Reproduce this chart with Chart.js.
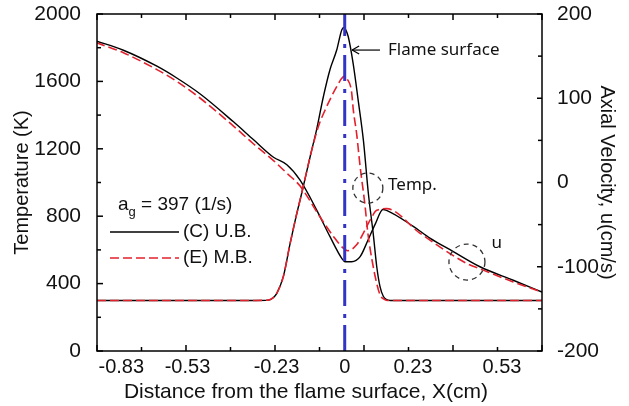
<!DOCTYPE html>
<html><head><meta charset="utf-8">
<script src="https://cdn.jsdelivr.net/npm/chart.js@4.4.0/dist/chart.umd.min.js"></script>
<style>html,body{margin:0;padding:0;background:#fff}</style>
</head><body>
<canvas id="c" width="629" height="406"></canvas>
<script>
// ---------- data ----------
const tempUBx = [-0.835,-0.50,-0.30,-0.257,-0.240,-0.229,-0.207,-0.184,-0.165,-0.145,-0.117,-0.094,-0.072,-0.050,-0.027,-0.010,-0.003,0.005,0.012,0.029,0.046,0.063,0.080,0.096,0.108,0.119,0.130,0.140,0.153,0.40,0.665];
const tempUB  = [300,300,300,302,318,342,441,639,790,936,1150,1320,1509,1668,1786,1905,1920,1900,1865,1700,1480,1250,930,698,500,382,325,306,300,300,300];

const tempMBx = [-0.835,-0.50,-0.30,-0.257,-0.240,-0.229,-0.207,-0.184,-0.165,-0.145,-0.117,-0.089,-0.061,-0.045,-0.027,-0.010,-0.002,0.008,0.023,0.029,0.040,0.052,0.068,0.078,0.092,0.108,0.120,0.135,0.145,0.40,0.665];
const tempMB  = [300,300,300,302,318,342,441,639,790,936,1150,1331,1450,1509,1569,1618,1630,1615,1540,1430,1292,1094,870,700,540,400,330,305,300,300,300];

const velUBx = [-0.838,-0.746,-0.633,-0.566,-0.487,-0.375,-0.308,-0.240,-0.195,-0.151,-0.094,-0.050,-0.010,0.001,0.023,0.052,0.079,0.102,0.129,0.141,0.231,0.287,0.366,0.456,0.568,0.665];
const velUB  = [168,157,138,124,105,72,51,30,21,3,-33,-64,-90,-94,-94,-88,-68,-50,-32,-33,-52,-66,-82,-100,-116,-130];

const velMBx = [-0.838,-0.746,-0.633,-0.566,-0.487,-0.375,-0.308,-0.240,-0.195,-0.151,-0.083,-0.038,-0.005,0.010,0.040,0.063,0.085,0.108,0.141,0.253,0.411,0.467,0.568,0.665];
const velMB  = [166,154,134,120,100,67,46,26,11,-4,-41,-64,-78,-81,-74,-60,-45,-33,-31,-60,-96,-104,-118,-130];

const flameX = [0, 0];
const flameT = [0, 2000];

const xTickLabels = ["-0.83","-0.53","-0.23","0","0.23","0.53"];
const xTickValues = [-0.83,-0.53,-0.23,0,0.23,0.53];
const xMinorStep = 0.15;
const yLabelStep = 400, yMinorStep = 200;
const y1LabelStep = 100, y1MinorStep = 50;
const seriesNames = ["(C) U.B.","(E) M.B."];
const strainLabel = ["a","g"," = 397 (1/s)"];
const xTitle = "Distance from the flame surface, X(cm)";

// ---------- helpers ----------
const pts = (xs, ys) => xs.map((v,i)=>({x:v,y:ys[i]}));
const RED = '#e3212d', BLK = '#000000', BLUE = '#3434c4';
const FONT = "'Liberation Sans', Arial, sans-serif";
const AFONT = "'Noto Sans', 'Open Sans', sans-serif";
const noPad = s => { s.paddingTop = 0; s.paddingBottom = 0; };

const decor = {
  id:'decor',
  afterDatasetsDraw(chart){
    const {ctx, chartArea:a, scales:{x,y,y1}} = chart;
    const L = (x0,y0,x1,y1_)=>{ctx.beginPath();ctx.moveTo(x0,y0);ctx.lineTo(x1,y1_);ctx.stroke();};
    ctx.save();
    ctx.strokeStyle='#000'; ctx.lineWidth=1.5; ctx.setLineDash([]);
    const n = Math.round((x.max-x.min)/xMinorStep);
    for(let i=0;i<=n;i++){
      const px = x.getPixelForValue(x.min+i*xMinorStep);
      const len = i%2===0?6:4;
      L(px,a.bottom,px,a.bottom-len);
      L(px,a.top,px,a.top+len);
    }
    for(let t=y.min;t<=y.max;t+=yMinorStep){
      const py=y.getPixelForValue(t);
      L(a.left,py,a.left+(t%yLabelStep===0?6:4),py);
    }
    for(let u=y1.min;u<=y1.max;u+=y1MinorStep){
      const py=y1.getPixelForValue(u);
      L(a.right,py,a.right-(u%y1LabelStep===0?5:4),py);
    }
    ctx.strokeRect(a.left,a.top,a.right-a.left,a.bottom-a.top);

    // x axis title
    ctx.fillStyle='#111'; ctx.textBaseline='middle'; ctx.textAlign='center';
    ctx.font = "21px "+FONT;
    ctx.fillText(xTitle, 306, a.bottom+41);

    // legend
    ctx.textAlign='left';
    const lx0 = a.left+13, lx1 = a.left+82;
    const ly1 = a.top+218, ly2 = a.top+244;
    ctx.font = "19px "+FONT;
    let tx = a.left+21, ty = a.top+191;
    ctx.fillText(strainLabel[0],tx,ty); tx += ctx.measureText(strainLabel[0]).width;
    ctx.font = "13px "+FONT; ctx.fillText(strainLabel[1],tx,ty+7); tx += ctx.measureText(strainLabel[1]).width;
    ctx.font = "19px "+FONT; ctx.fillText(strainLabel[2],tx,ty);
    ctx.lineWidth=1.5;
    ctx.strokeStyle=BLK; ctx.setLineDash([]); L(lx0,ly1,lx1,ly1);
    ctx.strokeStyle=RED; ctx.setLineDash([9,4]); L(lx0,ly2,lx1,ly2);
    ctx.setLineDash([]);
    ctx.fillText(seriesNames[0],lx1+4,ly1);
    ctx.fillText(seriesNames[1],lx1+4,ly2);

    // annotations
    ctx.font = "17px "+AFONT; ctx.fillStyle='#111';
    const fy = y.getPixelForValue(1786);
    ctx.fillText("Flame surface", x.getPixelForValue(0.146), fy);
    ctx.strokeStyle='#000'; ctx.lineWidth=1.2;
    const ax0 = x.getPixelForValue(0.025), ax1 = x.getPixelForValue(0.119);
    L(ax0,fy,ax1,fy); L(ax0,fy,ax0+7,fy-4); L(ax0,fy,ax0+7,fy+4);
    ctx.fillText("Temp.", x.getPixelForValue(0.146), y.getPixelForValue(985));
    ctx.fillText("u", x.getPixelForValue(0.495), y.getPixelForValue(641));
    ctx.strokeStyle='#333'; ctx.lineWidth=1.3; ctx.setLineDash([5,4]);
    ctx.beginPath(); ctx.arc(x.getPixelForValue(0.078), y.getPixelForValue(967), 15, 0, Math.PI*2); ctx.stroke();
    ctx.beginPath(); ctx.arc(x.getPixelForValue(0.412), y.getPixelForValue(528), 18, 0, Math.PI*2); ctx.stroke();
    ctx.restore();
  }
};

new Chart(document.getElementById('c'), {
  type:'line',
  data:{datasets:[
    {data:pts(flameX,flameT), yAxisID:'y', borderColor:BLUE, borderWidth:3, borderDash:[26,7,4,8], pointRadius:0, tension:0},
    {data:pts(tempMBx,tempMB), yAxisID:'y', borderColor:RED, borderWidth:1.6, borderDash:[9,4], pointRadius:0, cubicInterpolationMode:'monotone'},
    {data:pts(velMBx,velMB), yAxisID:'y1', borderColor:RED, borderWidth:1.6, borderDash:[9,4], pointRadius:0, cubicInterpolationMode:'monotone'},
    {data:pts(tempUBx,tempUB), yAxisID:'y', borderColor:BLK, borderWidth:1.4, pointRadius:0, cubicInterpolationMode:'monotone'},
    {data:pts(velUBx,velUB), yAxisID:'y1', borderColor:BLK, borderWidth:1.4, pointRadius:0, cubicInterpolationMode:'monotone'}
  ]},
  options:{
    responsive:false, animation:false,
    layout:{padding:{top:14,left:0,right:0,bottom:0}},
    plugins:{legend:{display:false}, tooltip:{enabled:false}},
    scales:{
      x:{type:'linear', min:-0.835, max:0.665,
        grid:{display:false}, border:{display:false},
        afterBuildTicks(s){ s.ticks = xTickValues.map(v=>({value:v})).concat([{value:s.max}]); },
        afterFit(s){ s.height = 55; s.paddingLeft = 0; s.paddingRight = 0; },
        ticks:{align:'inner', autoSkip:false, maxRotation:0, padding:-4, color:'#111', font:{family:FONT,size:20},
          callback(v){ const i = xTickValues.indexOf(v); return i>=0 ? xTickLabels[i] : ''; }},
        title:{display:false}
      },
      y:{type:'linear', position:'left', min:0, max:2000,
        grid:{display:false}, border:{display:false},
        afterFit(s){ s.width = 97; noPad(s); },
        ticks:{stepSize:yLabelStep, padding:8, color:'#111', font:{family:FONT,size:21}, callback:v=>String(v)},
        title:{display:true, text:'Temperature (K)', color:'#111', font:{family:FONT,size:20}, padding:{top:10,bottom:0}}
      },
      y1:{type:'linear', position:'right', min:-200, max:200,
        grid:{display:false}, border:{display:false},
        afterFit(s){ s.width = 87; noPad(s); },
        ticks:{stepSize:y1LabelStep, padding:7, color:'#111', font:{family:FONT,size:21}, callback:v=>String(v)},
        title:{display:true, text:'Axial Velocity, u(cm/s)', color:'#111', font:{family:FONT,size:20}, padding:{top:10,bottom:0}}
      }
    }
  },
  plugins:[decor]
});
</script>
</body></html>
